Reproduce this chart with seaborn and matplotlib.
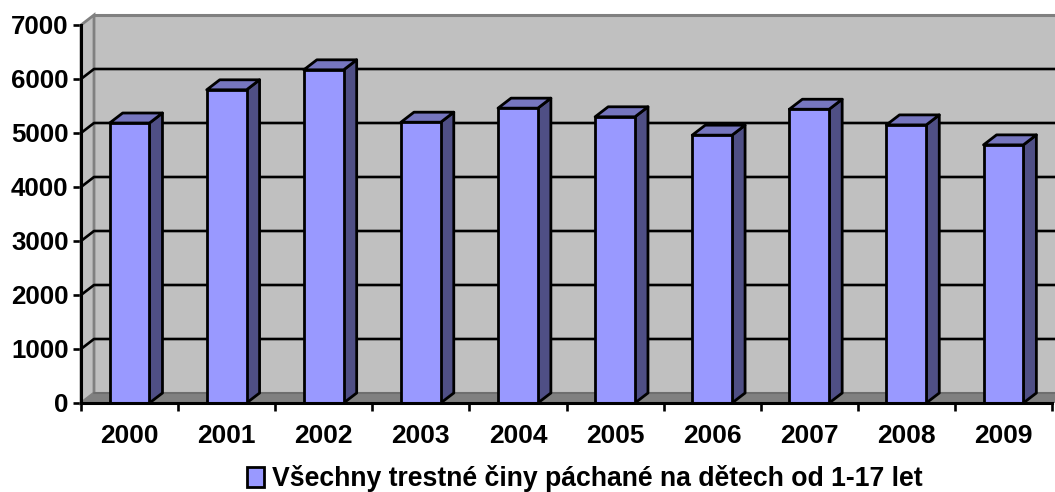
import matplotlib
matplotlib.use('Agg')
import matplotlib.pyplot as plt
import pandas as pd
import seaborn as sns
from matplotlib.patches import Polygon

years = ['2000', '2001', '2002', '2003', '2004', '2005', '2006', '2007', '2008', '2009']
counts = [5185, 5800, 6170, 5200, 5460, 5300, 4960, 5440, 5150, 4780]
yticks = [0, 1000, 2000, 3000, 4000, 5000, 6000, 7000]
series = 'Všechny trestné činy páchané na dětech od 1-17 let'

df = pd.DataFrame({'year': years, 'count': counts})

sns.set_style('white')
plt.rcParams['font.family'] = ['Liberation Sans', 'DejaVu Sans']
plt.rcParams['font.weight'] = 'bold'

fig = plt.figure(figsize=(10.55, 4.92), dpi=100)
ax = fig.add_axes([81 / 1055, 1 - 403 / 492, 971 / 1055, 378 / 492])

sns.barplot(data=df, x='year', y='count', color='#9999ff', saturation=1, width=0.41,
            edgecolor='black', linewidth=2, label=series, ax=ax, zorder=5)
ax.set_xlim(-0.5, 9.5)
ax.set_ylim(0, 7000)

# depth of the fake 3d box, 13px right and 10px up
dx = 13 / 97
dy = 10 / 0.054
right = 9.5 + 3 / 97
gray = '#c0c0c0'
dark = '#808080'

# back wall, left wall, floor
ax.add_patch(Polygon([(-0.5 + dx, dy), (right, dy), (right, 7000 + dy), (-0.5 + dx, 7000 + dy)],
                     fc=gray, ec='none', clip_on=False, zorder=0))
ax.add_patch(Polygon([(-0.5, 0), (-0.5 + dx, dy), (-0.5 + dx, 7000 + dy), (-0.5, 7000)],
                     fc=gray, ec=dark, lw=2, clip_on=False, zorder=1))
ax.add_patch(Polygon([(-0.5, 0), (-0.5 + dx, dy), (right, dy), (right, 0)],
                     fc=dark, ec='none', clip_on=False, zorder=1))
ax.plot([-0.5 + dx, right], [7000 + dy, 7000 + dy], color=dark, lw=2.2, clip_on=False, zorder=2)
ax.plot([-0.5 + dx, right], [dy, dy], color='#6e6e6e', lw=1.5, clip_on=False, zorder=2)

# gridlines run along the left wall then across the back
for t in yticks[1:-1]:
    ax.plot([-0.5, -0.5 + dx, right], [t, t + dy, t + dy], color='black', lw=1.9,
            clip_on=False, zorder=3)

# side and top faces taken from the seaborn bars
for bar in ax.containers[0]:
    x0 = bar.get_x()
    x1 = x0 + bar.get_width()
    h = bar.get_height()
    ax.add_patch(Polygon([(x1, 0), (x1 + dx, dy), (x1 + dx, h + dy), (x1, h)],
                         fc='#4f4f85', ec='black', lw=2, joinstyle='round', clip_on=False, zorder=4))
    ax.add_patch(Polygon([(x0, h), (x0 + dx, h + dy), (x1 + dx, h + dy), (x1, h)],
                         fc='#7676bf', ec='black', lw=2, joinstyle='round', clip_on=False, zorder=4))

for s in ['top', 'right']:
    ax.spines[s].set_visible(False)
for s in ['left', 'bottom']:
    ax.spines[s].set_color('black')
    ax.spines[s].set_linewidth(2.2)
    ax.spines[s].set_zorder(6)

ax.set_xlabel('')
ax.set_ylabel('')
ax.set_yticks(yticks)
ax.set_xticks([i - 0.5 for i in range(len(years) + 1)], minor=True)
ax.tick_params(axis='x', which='major', length=0, pad=15, labelsize=19, colors='black')
ax.tick_params(axis='x', which='minor', length=6, width=1.9, color='black', bottom=True)
ax.tick_params(axis='y', length=6, width=1.9, color='black', left=True, pad=3,
               labelsize=18.6, labelcolor='black')

leg = ax.legend(loc='center', bbox_to_anchor=(585 / 1055, 1 - 479 / 492), bbox_transform=fig.transFigure,
                frameon=False, fontsize=19.2, handlelength=0.62, handleheight=0.75, handletextpad=0.3,
                borderpad=0, labelcolor='black')
leg.get_patches()[0].set_linewidth(2)

fig.savefig('out.png', dpi=100)
